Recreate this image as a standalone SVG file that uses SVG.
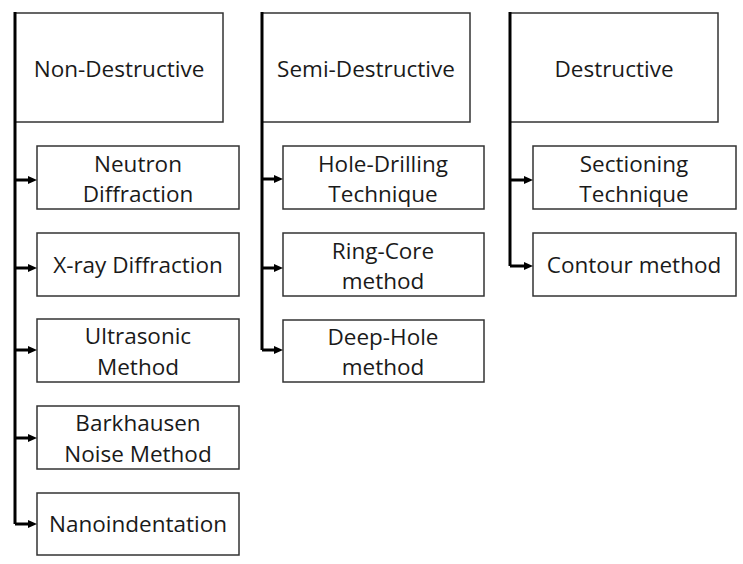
<svg xmlns="http://www.w3.org/2000/svg" width="743" height="564" viewBox="0 0 743 564">
<style>
.box{fill:#fff;stroke:#333;stroke-width:1.5}
.t{font-family:"Open Sans","Liberation Sans",sans-serif;font-size:22.5px;fill:#1a1a1a;text-anchor:middle}
.c{fill:none;stroke:#000;stroke-width:3}
</style>
<defs>
<marker id="ah" markerWidth="9" markerHeight="9" refX="0" refY="4.5" orient="auto" markerUnits="userSpaceOnUse">
<path d="M0,0.5 L9,4.5 L0,8.5 Z" fill="#000"/>
</marker>
</defs>
<rect width="743" height="564" fill="#fff"/>
<g id="n-nondestructive"><rect class="box" x="15" y="13" width="208" height="109"/><text class="t" x="119" y="77">Non-Destructive</text></g>
<g id="n-semidestructive"><rect class="box" x="262" y="13" width="208" height="109"/><text class="t" x="366" y="77">Semi-Destructive</text></g>
<g id="n-destructive"><rect class="box" x="510" y="13" width="208" height="109"/><text class="t" x="614" y="77">Destructive</text></g>
<g id="n-neutron"><rect class="box" x="37" y="146" width="202" height="63"/><text class="t" x="138" y="172">Neutron</text><text class="t" x="138" y="202">Diffraction</text></g>
<g id="n-xray"><rect class="box" x="37" y="233" width="202" height="63"/><text class="t" x="138" y="273">X-ray Diffraction</text></g>
<g id="n-ultrasonic"><rect class="box" x="37" y="319" width="202" height="63"/><text class="t" x="138" y="344">Ultrasonic</text><text class="t" x="138" y="375">Method</text></g>
<g id="n-barkhausen"><rect class="box" x="37" y="406" width="202" height="63"/><text class="t" x="138" y="431">Barkhausen</text><text class="t" x="138" y="462">Noise Method</text></g>
<g id="n-nano"><rect class="box" x="37" y="493" width="202" height="62"/><text class="t" x="138" y="532">Nanoindentation</text></g>
<g id="n-hole"><rect class="box" x="283" y="146" width="201" height="63"/><text class="t" x="383" y="172">Hole-Drilling</text><text class="t" x="383" y="202">Technique</text></g>
<g id="n-ring"><rect class="box" x="283" y="233" width="201" height="63"/><text class="t" x="383" y="259">Ring-Core</text><text class="t" x="383" y="289">method</text></g>
<g id="n-deep"><rect class="box" x="283" y="320" width="201" height="62"/><text class="t" x="383" y="345">Deep-Hole</text><text class="t" x="383" y="375">method</text></g>
<g id="n-sectioning"><rect class="box" x="533" y="146" width="203" height="63"/><text class="t" x="634" y="172">Sectioning</text><text class="t" x="634" y="202">Technique</text></g>
<g id="n-contour"><rect class="box" x="533" y="233" width="203" height="63"/><text class="t" x="634" y="273">Contour method</text></g>
<g id="connectors">
<path class="c" d="M15,12 V524"/>
<path class="c" d="M262,12 V350"/>
<path class="c" d="M510,12 V266"/>
<path class="c" marker-end="url(#ah)" d="M15,180 H28"/>
<path class="c" marker-end="url(#ah)" d="M15,268 H28"/>
<path class="c" marker-end="url(#ah)" d="M15,350 H28"/>
<path class="c" marker-end="url(#ah)" d="M15,438 H28"/>
<path class="c" marker-end="url(#ah)" d="M15,524 H28"/>
<path class="c" marker-end="url(#ah)" d="M262,179 H274"/>
<path class="c" marker-end="url(#ah)" d="M262,268 H274"/>
<path class="c" marker-end="url(#ah)" d="M262,350 H274"/>
<path class="c" marker-end="url(#ah)" d="M510,180 H524"/>
<path class="c" marker-end="url(#ah)" d="M510,266 H524"/>
</g>
</svg>
